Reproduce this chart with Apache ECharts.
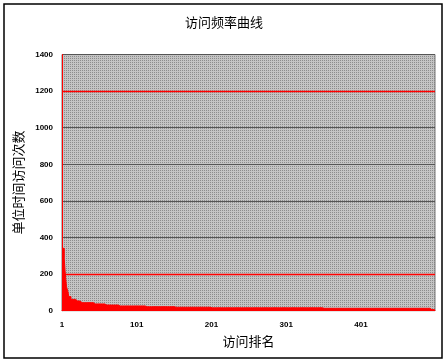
<!DOCTYPE html>
<html><head><meta charset="utf-8">
<script src="https://cdn.jsdelivr.net/npm/echarts@6/dist/echarts.min.js"></script>
<style>html,body{margin:0;padding:0;background:#fff}#c{width:448px;height:364px}</style>
</head><body><div id="c"></div>
<script>
// Chart text
var titleText = "访问频率曲线";
var yName = "单位时间访问次数";
var xName = "访问排名";
var yTicks = [0, 200, 400, 600, 800, 1000, 1200, 1400];
var redGridLines = [200, 1200];
// Step runs: [value, number of ranks]
var runValues = [341, 286, 222, 131, 104, 77, 62, 53, 44, 37, 31, 26, 22, 19, 16, 13, 6];
var runCounts = [3, 1, 2, 2, 1, 3, 7, 7, 17, 16, 16, 36, 39, 50, 150, 142, 8];

var ranks = [], values = [];
for (var r = 0; r < runValues.length; r++) {
  for (var k = 0; k < runCounts[r]; k++) { values.push(runValues[r]); }
}
for (var i = 0; i < values.length; i++) ranks.push(String(i + 1));

// dotted gray pattern
var pc = document.createElement('canvas');
pc.width = 2; pc.height = 2;
var pctx = pc.getContext('2d');
pctx.fillStyle = '#c4c4c4'; pctx.fillRect(0, 0, 2, 2);
pctx.fillStyle = '#8c8c8c'; pctx.fillRect(0, 0, 1, 1);

var chart = echarts.init(document.getElementById('c'), null, {renderer: 'canvas'});
chart.setOption({
  animation: false,
  backgroundColor: '#fff',
  title: {text: titleText, left: 'center', top: 11,
    textStyle: {fontFamily: 'Noto Sans CJK SC', fontSize: 13, fontWeight: 'normal', color: '#000'}},
  graphic: [{type: 'rect', shape: {x: 4, y: 4, width: 438, height: 354},
    style: {fill: 'none', stroke: '#000', lineWidth: 1.5}, z: 100}],
  grid: {left: 62, top: 54.5, right: 13, bottom: 53.3, show: true,
    backgroundColor: {image: pc, repeat: 'repeat'}, borderColor: '#777', borderWidth: 1},
  xAxis: {type: 'category', data: ranks, boundaryGap: false,
    name: xName, nameLocation: 'middle', nameGap: 24,
    nameTextStyle: {fontFamily: 'Noto Sans CJK SC', fontSize: 13, color: '#000'},
    axisLine: {show: true, lineStyle: {color: '#ff0000', width: 1}},
    axisTick: {show: false},
    axisLabel: {interval: 99, margin: 10, fontFamily: 'Liberation Sans', fontSize: 8, fontWeight: 'bold', color: '#000'},
    splitLine: {show: false}},
  yAxis: {type: 'value', min: 0, max: 1400, interval: 200,
    name: yName, nameLocation: 'middle', nameGap: 28, nameRotate: 90,
    nameTextStyle: {fontFamily: 'Noto Sans CJK SC', fontSize: 13, color: '#000'},
    axisLine: {show: true, lineStyle: {color: '#ff0000', width: 1}},
    axisTick: {show: false},
    axisLabel: {margin: 9, fontFamily: 'Liberation Sans', fontSize: 8, fontWeight: 'bold', color: '#000',
      formatter: function (v) { return yTicks.indexOf(v) >= 0 ? String(v) : ''; }},
    splitLine: {show: true, lineStyle: {width: 1, color: '#555555'}}},
  series: [{type: 'line', data: values, step: 'end', symbol: 'none', z: 3,
    lineStyle: {color: '#ff0000', width: 1}, areaStyle: {color: '#ff0000', opacity: 1}},
    {type: 'line', data: [], z: 5, symbol: 'none',
    markLine: {silent: true, symbol: 'none', label: {show: false}, z: 5,
      lineStyle: {color: '#ff0000', width: 1.4, type: 'solid', opacity: 1},
      data: redGridLines.map(function (v) { return {yAxis: v}; })}}]
});
</script></body></html>
